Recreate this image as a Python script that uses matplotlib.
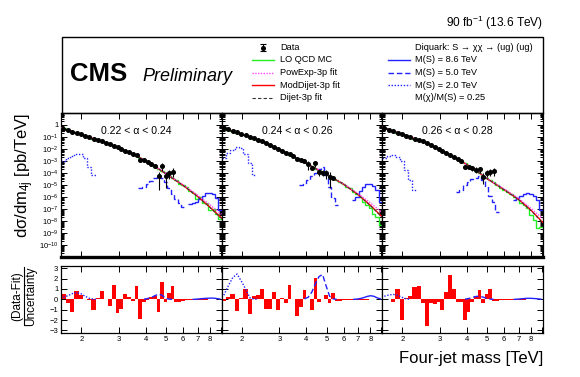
import numpy as np
import matplotlib.pyplot as plt
from matplotlib.patches import Rectangle
from matplotlib.ticker import FixedLocator, FuncFormatter, LogLocator, NullFormatter, NullLocator

plt.rcParams['font.family'] = ['Liberation Sans', 'DejaVu Sans']
plt.rcParams['mathtext.fontset'] = 'custom'
plt.rcParams['mathtext.rm'] = 'Liberation Sans'
plt.rcParams['mathtext.it'] = 'Liberation Sans:italic'
plt.rcParams['mathtext.bf'] = 'Liberation Sans:bold'

# four-jet mass bin edges [GeV]
bin_edges = [1607, 1687, 1770, 1856, 1945, 2037, 2132, 2231, 2332, 2438, 2546, 2659, 2775, 2895,
             3019, 3147, 3279, 3416, 3558, 3704, 3854, 4010, 4171, 4337, 4509, 4686, 4869, 5058,
             5253, 5455, 5663, 5877, 6099, 6328, 6564, 6808, 7060, 7320, 7589, 7866, 8152, 8447,
             8752, 9067]

alpha_labels = ['0.22 < α < 0.24', '0.24 < α < 0.26', '0.26 < α < 0.28']

# data, log10(dsigma/dm [pb/TeV]) per bin
data_a = [-0.32, -0.45, -0.57, -0.69, -0.81, -0.92, -1.04, -1.15, -1.26, -1.37, -1.50, -1.63, -1.75,
          -1.88, -2.01, -2.16, -2.30, -2.44, -2.55, -2.90, -2.97, -3.12, -3.27, -3.44, -4.30, -3.45,
          -4.30, -4.05, -3.92]
data_b = [-0.25, -0.39, -0.52, -0.64, -0.76, -0.89, -1.02, -1.14, -1.27, -1.39, -1.54, -1.70, -1.85,
          -2.00, -2.15, -2.32, -2.47, -2.63, -2.82, -2.95, -3.05, -3.29, -3.60, -3.20, -3.95, -3.98,
          -4.05, -4.35, -4.40]
data_c = [-0.25, -0.40, -0.52, -0.65, -0.77, -0.90, -1.02, -1.15, -1.27, -1.39, -1.54, -1.70, -1.85,
          -2.00, -2.16, -2.34, -2.50, -2.66, -2.84, -3.02, -3.50, -3.50, -3.62, -3.75, -3.70, -4.33,
          -4.00, -3.92, -3.88]
# error bars in decades (down / up)
err_dn_a = [0] * 19 + [0.10, 0.12, 0.14, 0.15, 0.18, 1.10, 0.40, 1.00, 0.45, 0.40]
err_up_a = [0] * 19 + [0.08, 0.10, 0.12, 0.13, 0.15, 0.40, 0.30, 0.40, 0.30, 0.28]
err_dn_b = [0] * 19 + [0.10, 0.12, 0.50, 0.15, 0.30, 0.30, 0.30, 0.45, 0.90, 0.0]
err_up_b = [0] * 19 + [0.08, 0.10, 0.30, 0.12, 0.22, 0.22, 0.22, 0.30, 0.40, 0.0]
err_dn_c = [0] * 19 + [0.10, 0.20, 0.20, 0.22, 0.25, 0.30, 0.60, 0.35, 0.35, 0.35]
err_up_c = [0] * 19 + [0.08, 0.15, 0.15, 0.17, 0.20, 0.22, 0.35, 0.25, 0.25, 0.25]

# LO QCD MC, log10 per bin
qcd_a = [-0.30, -0.44, -0.56, -0.68, -0.80, -0.92, -1.03, -1.15, -1.26, -1.38, -1.50, -1.62, -1.75,
         -1.87, -2.01, -2.15, -2.30, -2.42, -2.56, -2.74, -2.90, -3.10, -3.30, -3.50, -3.70, -3.82,
         -4.02, -4.30, -4.40, -4.62, -4.90, -5.00, -5.17, -5.55, -5.65, -6.20, -6.00, -6.50, -6.55,
         -7.10, -7.00, -7.44, -7.80]
qcd_b = [-0.27, -0.40, -0.52, -0.65, -0.77, -0.89, -1.02, -1.15, -1.27, -1.39, -1.54, -1.70, -1.85,
         -2.00, -2.15, -2.32, -2.48, -2.62, -2.78, -2.95, -3.12, -3.30, -3.44, -3.65, -3.80, -3.92,
         -4.10, -4.30, -4.42, -4.62, -4.80, -4.92, -5.18, -5.30, -5.60, -5.72, -6.00, -6.40, -6.65,
         -6.90, -7.40, -7.70, -8.30]
qcd_c = [-0.27, -0.40, -0.52, -0.65, -0.77, -0.89, -1.02, -1.15, -1.27, -1.39, -1.54, -1.70, -1.85,
         -2.00, -2.16, -2.34, -2.51, -2.68, -2.86, -3.04, -3.22, -3.41, -3.62, -3.80, -4.02, -4.24,
         -4.45, -4.62, -4.80, -5.05, -5.30, -5.45, -5.60, -5.75, -6.00, -6.20, -6.55, -6.70, -6.95,
         -7.50, -7.90, -8.60, -8.50]

# fit functions, log10 values at these masses [TeV]
fit_mass = [1.6, 2.0, 2.5, 3.0, 3.5, 4.0, 4.5, 5.0, 6.0, 7.0, 8.0, 9.07]
moddijet_a = [-0.25, -0.82, -1.38, -1.92, -2.45, -3.00, -3.55, -4.10, -5.05, -5.95, -6.85, -7.75]
powexp_a = [-0.25, -0.82, -1.38, -1.92, -2.45, -3.00, -3.55, -4.08, -5.00, -5.85, -6.65, -7.45]
dijet_a = [-0.25, -0.82, -1.38, -1.92, -2.45, -3.00, -3.55, -4.10, -5.06, -5.97, -6.88, -7.80]
moddijet_b = [-0.20, -0.78, -1.40, -2.05, -2.65, -3.20, -3.70, -4.15, -4.95, -5.80, -6.70, -7.65]
powexp_b = [-0.20, -0.78, -1.40, -2.05, -2.65, -3.20, -3.70, -4.14, -4.93, -5.72, -6.50, -7.30]
dijet_b = [-0.20, -0.78, -1.40, -2.05, -2.65, -3.20, -3.70, -4.15, -4.96, -5.82, -6.73, -7.70]
moddijet_c = [-0.20, -0.78, -1.40, -2.05, -2.70, -3.30, -3.90, -4.50, -5.40, -6.20, -7.10, -8.10]
powexp_c = [-0.20, -0.78, -1.40, -2.05, -2.70, -3.30, -3.90, -4.48, -5.35, -6.12, -6.95, -7.80]
dijet_c = [-0.20, -0.78, -1.40, -2.05, -2.70, -3.30, -3.90, -4.50, -5.41, -6.22, -7.13, -8.15]

# signal shapes, log10 per bin, starting at the given bin
sig20_a, sig20_a_start = [-3.05, -2.80, -2.60, -2.40, -2.45, -2.75, -3.50, -4.15], 0
sig20_b, sig20_b_start = [-2.75, -2.35, -2.10, -1.85, -1.95, -2.40, -3.20, -4.20], 0
sig20_c, sig20_c_start = [-2.80, -2.60, -2.50, -2.70, -3.05, -3.75, -4.60, -5.40], 0
sig50_a, sig50_a_start = [-5.25, -5.15, -4.90, -4.65, -4.45, -4.25, -4.40, -4.80, -5.30, -5.80,
                          -6.20, -6.50, -6.85], 19
sig50_b, sig50_b_start = [-5.05, -4.90, -4.60, -4.30, -4.00, -3.70, -3.55, -4.20, -5.20, -6.10,
                          -6.70], 19
sig50_c, sig50_c_start = [-5.60, -5.40, -5.00, -4.75, -4.55, -4.40, -4.30, -4.60, -5.20, -5.90,
                          -6.45, -7.25], 18
sig86_a, sig86_a_start = [-6.60, -6.50, -6.40, -6.20, -5.90, -5.70, -5.70, -5.75, -6.10, -7.10], 33
sig86_b, sig86_b_start = [-6.30, -6.00, -5.50, -5.20, -4.95, -4.95, -5.10, -5.40, -6.40], 34
sig86_c, sig86_c_start = [-6.30, -6.10, -5.90, -5.75, -5.70, -5.80, -5.90, -6.30, -7.10], 34

# (data - fit) / uncertainty per bin
pull_a = [0.55, -0.40, -1.20, 0.85, 0.45, 0.05, -0.05, -1.05, 0.15, 0.85, 0.02, -0.65, 1.40, -1.30,
          -0.90, 0.55, 0.25, -0.20, 1.25, -1.85, -0.30, -0.10, 0.20, 0.30, -1.25, 1.70, -0.30, 0.65,
          1.30, -0.30, -0.25, -0.15, -0.10, -0.07, -0.05, -0.04, -0.03, -0.02, -0.02, -0.01, -0.01,
          -0.01, 0.0]
pull_b = [-0.20, 0.20, 0.50, -1.10, 0.15, 1.00, -1.40, 0.30, 0.40, 1.00, -0.90, -0.90, 0.70, -1.05,
          0.15, -0.40, 1.40, 0.02, -1.60, -0.75, 0.90, 0.05, -1.00, 2.10, -0.30, 0.05, 0.40, -0.35,
          0.60, -0.15, -0.15, -0.10, -0.08, -0.06, -0.05, -0.04, -0.03, -0.02, -0.02, -0.01, -0.01,
          -0.01, 0.0]
pull_c = [0.05, 0.02, -0.25, 1.00, -2.00, 0.10, 0.30, 1.20, 1.30, -0.35, -2.60, -0.40, -0.45, -0.30,
          -1.00, 0.75, 2.40, 1.00, -0.30, -0.30, -2.00, -1.20, -0.30, 0.35, 0.90, -0.40, 0.50, 1.00,
          -0.20, -0.15, -0.10, -0.08, -0.06, -0.05, -0.04, -0.03, -0.02, -0.02, -0.01, -0.01, -0.01,
          0.0, 0.0]

# signal significance in the ratio panels, at bin centres from the given bin
spull20_a, spull20_a_start = [0.20, 0.35, 0.55, 0.65, 0.55, 0.30, 0.10, 0.02, 0.0], 0
spull20_b, spull20_b_start = [0.40, 1.30, 2.10, 2.45, 1.75, 1.00, 0.15, 0.02, 0.0], 0
spull20_c, spull20_c_start = [0.30, 0.42, 0.48, 0.40, 0.20, 0.05, 0.0], 0
spull50_a, spull50_a_start = [0.02, 0.08, 0.18, 0.35, 0.50, 0.40, 0.10, 0.02, 0.0], 20
spull50_b, spull50_b_start = [0.05, 0.20, 0.70, 1.50, 2.20, 2.40, 1.30, 0.30, 0.05, 0.0], 20
spull50_c, spull50_c_start = [0.02, 0.08, 0.18, 0.28, 0.30, 0.22, 0.10, 0.03, 0.0], 20
spull86_a, spull86_a_start = [0.0, 0.02, 0.05, 0.08, 0.10, 0.12, 0.12, 0.08, 0.03], 34
spull86_b, spull86_b_start = [0.0, 0.03, 0.08, 0.17, 0.28, 0.35, 0.30, 0.15, 0.05], 34
spull86_c, spull86_c_start = [0.0, 0.02, 0.05, 0.08, 0.10, 0.10, 0.08, 0.05, 0.02], 34

data = [data_a, data_b, data_c]
err_dn = [err_dn_a, err_dn_b, err_dn_c]
err_up = [err_up_a, err_up_b, err_up_c]
qcd = [qcd_a, qcd_b, qcd_c]
moddijet = [moddijet_a, moddijet_b, moddijet_c]
powexp = [powexp_a, powexp_b, powexp_c]
dijet = [dijet_a, dijet_b, dijet_c]
sig20 = [(sig20_a, sig20_a_start), (sig20_b, sig20_b_start), (sig20_c, sig20_c_start)]
sig50 = [(sig50_a, sig50_a_start), (sig50_b, sig50_b_start), (sig50_c, sig50_c_start)]
sig86 = [(sig86_a, sig86_a_start), (sig86_b, sig86_b_start), (sig86_c, sig86_c_start)]
pulls = [pull_a, pull_b, pull_c]
spull20 = [(spull20_a, spull20_a_start), (spull20_b, spull20_b_start), (spull20_c, spull20_c_start)]
spull50 = [(spull50_a, spull50_a_start), (spull50_b, spull50_b_start), (spull50_c, spull50_c_start)]
spull86 = [(spull86_a, spull86_a_start), (spull86_b, spull86_b_start), (spull86_c, spull86_c_start)]

edges = np.array(bin_edges) / 1000.0
centers = 0.5 * (edges[1:] + edges[:-1])

W, H = 580.0, 377.0
x0, pw = 61.0, 160.5
up_top, up_bot = 112.7, 257.0
lo_top, lo_bot = 265.7, 333.0

blue = '#2222ff'
sig_styles = [(0, (1, 1.2)), (0, (4, 2)), '-']


def ylabel_fmt(v, pos):
    e = int(round(np.log10(v)))
    if e == 0:
        return '1'
    if e > 0 or e < -10:
        return ''
    return '$10^{%d}$' % e


fig = plt.figure(figsize=(5.8, 3.77), dpi=100)

for i in range(3):
    left = (x0 + i * pw) / W
    ax = fig.add_axes([left, 1 - up_bot / H, pw / W, (up_bot - up_top) / H])
    axl = fig.add_axes([left, 1 - lo_bot / H, pw / W, (lo_bot - lo_top) / H])

    # upper panel
    ax.stairs(10 ** np.array(qcd[i]), edges, color='#22ee22', lw=1.0, baseline=None, zorder=2)
    ax.plot(fit_mass, 10 ** np.array(moddijet[i]), color='red', lw=1.0, zorder=3)
    ax.plot(fit_mass, 10 ** np.array(powexp[i]), color='#ff44ff', ls=(0, (1, 1)), lw=1.0, zorder=3)
    ax.plot(fit_mass, 10 ** np.array(dijet[i]), color='#333333', ls=(0, (3, 2)), lw=0.7, zorder=3)
    for (vals, s), st in zip([sig20[i], sig50[i], sig86[i]], sig_styles):
        ax.stairs(10 ** np.array(vals), edges[s:s + len(vals) + 1], color=blue, ls=st, lw=1.0,
                  baseline=None, zorder=2)

    ld = np.array(data[i], float)
    n = len(ld)
    xc = centers[:n]
    yv = 10 ** ld
    dn = yv - 10 ** (ld - np.array(err_dn[i]))
    up = 10 ** (ld + np.array(err_up[i])) - yv
    ax.errorbar(xc, yv, yerr=[dn, up], xerr=[xc - edges[:n], edges[1:n + 1] - xc], fmt='o',
                color='black', ms=2.6, elinewidth=0.8, capsize=0, zorder=5)

    ax.text(0.25, 0.87, alpha_labels[i], transform=ax.transAxes, fontsize=7.6, va='center')

    ax.set_xscale('log')
    ax.set_yscale('log')
    ax.set_xlim(edges[0], edges[-1])
    ax.set_ylim(1e-11, 10)
    ax.yaxis.set_major_locator(LogLocator(base=10, numticks=30))
    ax.yaxis.set_minor_locator(LogLocator(base=10, subs=np.arange(2, 10), numticks=30))
    if i == 0:
        ax.yaxis.set_major_formatter(FuncFormatter(ylabel_fmt))
    else:
        ax.yaxis.set_major_formatter(NullFormatter())
    ax.yaxis.set_minor_formatter(NullFormatter())

    # lower panel
    axl.bar(edges[:-1], pulls[i], width=np.diff(edges), align='edge', color='red', lw=0, zorder=2)
    for (vals, s), st in zip([spull20[i], spull50[i], spull86[i]], sig_styles):
        axl.plot(centers[s:s + len(vals)], vals, color=blue, ls=st, lw=1.0, zorder=3)
    axl.set_xscale('log')
    axl.set_xlim(edges[0], edges[-1])
    axl.set_ylim(-3.25, 3.25)
    axl.yaxis.set_major_locator(FixedLocator([-3, -2, -1, 0, 1, 2, 3]))
    if i > 0:
        axl.yaxis.set_major_formatter(NullFormatter())

    for a in (ax, axl):
        a.xaxis.set_major_locator(FixedLocator([2, 3, 4, 5, 6, 7, 8, 9]))
        a.xaxis.set_minor_locator(NullLocator())
        a.tick_params(which='both', direction='in', top=True, right=True, labelsize=5.5, pad=2,
                      width=0.7)
        a.tick_params(which='major', length=4.5)
        a.tick_params(which='minor', length=2.2)
        for sp in a.spines.values():
            sp.set_linewidth(0.9)
    ax.xaxis.set_major_formatter(NullFormatter())
    ax.xaxis.set_minor_formatter(NullFormatter())
    ax.spines['bottom'].set_linewidth(2.4)
    axl.xaxis.set_major_formatter(FuncFormatter(lambda v, p: '%d' % v if v < 8.5 else ''))
    axl.xaxis.set_minor_formatter(NullFormatter())

# axis titles
fig.text(25 / W, 1 - 113 / H, 'dσ/dm$_{\\mathrm{4j}}$ [pb/TeV]', rotation=90, ha='center', va='top',
         fontsize=12)
fig.text(17 / W, 1 - 296 / H, '(Data-Fit)', rotation=90, ha='center', va='center', fontsize=8.5)
fig.text(31 / W, 1 - 296 / H, 'Uncertainty', rotation=90, ha='center', va='center', fontsize=8.5)
fig.text(543 / W, 1 - 359 / H, 'Four-jet mass [TeV]', ha='right', va='center', fontsize=12)
fig.text(543 / W, 1 - 23 / H, '90 fb$^{-1}$ (13.6 TeV)', ha='right', va='center', fontsize=8.6)

# header box with legend
ov = fig.add_axes([0, 0, 1, 1])
ov.set_xlim(0, W)
ov.set_ylim(H, 0)
ov.axis('off')
ov.plot([24, 24], [267, 325], color='black', lw=0.8)
ov.add_patch(Rectangle((61.5, 37), 481.5, 75.7, fill=False, ec='black', lw=1.0))
ov.text(70, 81, 'CMS', fontsize=18.5, fontweight='bold', va='baseline')
ov.text(142, 81, 'Preliminary', fontsize=13, style='italic', va='baseline')

rows = [47.5, 60, 72.5, 85, 97.5]
ov.errorbar([263], [rows[0]], yerr=[[3.5], [3.5]], fmt='o', color='black', ms=2.6, elinewidth=0.8,
            capsize=2, capthick=0.8)
left_keys = [('#22ee22', '-', 1.0), ('#ff44ff', (0, (1, 1)), 1.0), ('red', '-', 1.0),
             ('#333333', (0, (3, 2)), 0.8)]
left_texts = ['Data', 'LO QCD MC', 'PowExp-3p fit', 'ModDijet-3p fit', 'Dijet-3p fit']
for k, (c, ls, lw) in enumerate(left_keys):
    ov.plot([252, 274], [rows[k + 1]] * 2, color=c, ls=ls, lw=lw)
for k, t in enumerate(left_texts):
    ov.text(280, rows[k], t, fontsize=6.7, va='center')

right_texts = ['Diquark: S → χχ → (ug) (ug)', 'M(S) = 8.6 TeV', 'M(S) = 5.0 TeV', 'M(S) = 2.0 TeV',
               'M(χ)/M(S) = 0.25']
for k, st in enumerate(['-', (0, (4, 2)), (0, (1, 1.2))]):
    ov.plot([388, 410], [rows[k + 1]] * 2, color=blue, ls=st, lw=1.0)
for k, t in enumerate(right_texts):
    ov.text(415, rows[k], t, fontsize=6.7, va='center')

plt.savefig('out.png', dpi=100)
